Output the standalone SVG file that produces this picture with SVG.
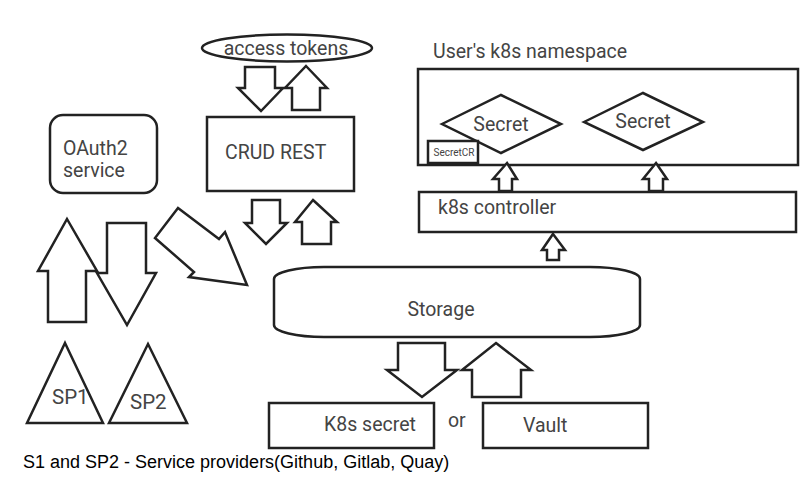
<svg xmlns="http://www.w3.org/2000/svg" width="808" height="502" viewBox="0 0 808 502">
<style>
.s{fill:#fff;stroke:#222;stroke-width:2.5;stroke-linejoin:miter}
.a{fill:#fff;stroke:#222;stroke-width:2.5;stroke-linejoin:miter}
.t{font-family:Roboto,"Liberation Sans",sans-serif;font-size:19.5px;fill:#444}
.f{font-family:"Liberation Sans",Arial,sans-serif;font-size:18px;fill:#000}
</style>
<rect width="808" height="502" fill="#fff"/>
<g id="access-tokens">
<ellipse class="s" cx="287" cy="48" rx="85" ry="13.5"/>
<text class="t" x="286" y="55" text-anchor="middle">access tokens</text>
</g>
<g id="crud-rest">
<rect class="s" x="207" y="117" width="147" height="74"/>
<text class="t" x="225" y="159">CRUD REST</text>
</g>
<g id="oauth2">
<rect class="s" x="50" y="115" width="107" height="78" rx="13"/>
<text class="t" x="63" y="155">OAuth2</text>
<text class="t" x="63" y="177">service</text>
</g>
<g id="sp1">
<polygon class="s" points="65,343 103,423 27,423"/>
<text class="t" x="52" y="404" style="font-size:20.5px">SP1</text>
</g>
<g id="sp2">
<polygon class="s" points="148,344 187,423 109,423"/>
<text class="t" x="130" y="409" style="font-size:20.5px">SP2</text>
</g>
<g id="namespace">
<text class="t" x="433" y="58">User's k8s namespace</text>
<rect class="s" x="418" y="69" width="380" height="96"/>
</g>
<g id="secret1">
<polygon class="s" points="442,124 501,95 561,124 501,153"/>
<text class="t" x="501" y="131" text-anchor="middle">Secret</text>
</g>
<g id="secret2">
<polygon class="s" points="584,122 643,93 703,122 643,150"/>
<text class="t" x="643" y="128" text-anchor="middle">Secret</text>
</g>
<g id="secretcr">
<rect class="s" x="428" y="141" width="50" height="22"/>
<text class="t" x="454" y="156" text-anchor="middle" style="font-size:10px">SecretCR</text>
</g>
<g id="k8s-controller">
<rect class="s" x="419" y="192" width="377" height="40"/>
<text class="t" x="438" y="214">k8s controller</text>
</g>
<g id="storage">
<rect class="s" x="274" y="267" width="366" height="70" rx="50" ry="12"/>
<text class="t" x="441" y="316" text-anchor="middle">Storage</text>
</g>
<g id="k8s-secret">
<rect class="s" x="269" y="403" width="165" height="45"/>
<text class="t" x="324" y="431">K8s secret</text>
</g>
<text class="t" x="448" y="427">or</text>
<g id="vault">
<rect class="s" x="483" y="403" width="165" height="45"/>
<text class="t" x="523" y="432">Vault</text>
</g>
<g id="connectors">
<polygon class="a" points="245,67 275,67 275,88 283,88 261,111 238,88 245,88"/>
<polygon class="a" points="306,66 327,88 320,88 320,110 292,110 292,88 285,88"/>
<polygon class="a" points="67,219 97,271 86,271 86,322 48,322 48,271 38,271"/>
<polygon class="a" points="107,223 146,223 146,273 156,273 127,325 97,273 107,273"/>
<polygon class="a" points="178,208 219,239 225,232 247,285 189,277 194,272 155,238"/>
<polygon class="a" points="252,200 280,200 280,223 287,223 266,244 245,223 252,223"/>
<polygon class="a" points="313,200 337,222 331,222 331,244 302,244 302,222 295,222"/>
<polygon class="a" points="553,234 565,250 559,250 559,260 547,260 547,250 542,250"/>
<polygon class="a" points="507,163 517,179 512,179 512,191 499,191 499,179 493,179"/>
<polygon class="a" points="656,163 667,179 663,179 663,191 649,191 649,179 643,179"/>
<polygon class="a" points="398,343 445,343 445,370 457,370 422,397 387,370 398,370"/>
<polygon class="a" points="496,343 531,370 521,370 521,397 472,397 472,370 462,370"/>
</g>
<text class="f" x="23" y="468">S1 and SP2 - Service providers(Github, Gitlab, Quay)</text>
</svg>
